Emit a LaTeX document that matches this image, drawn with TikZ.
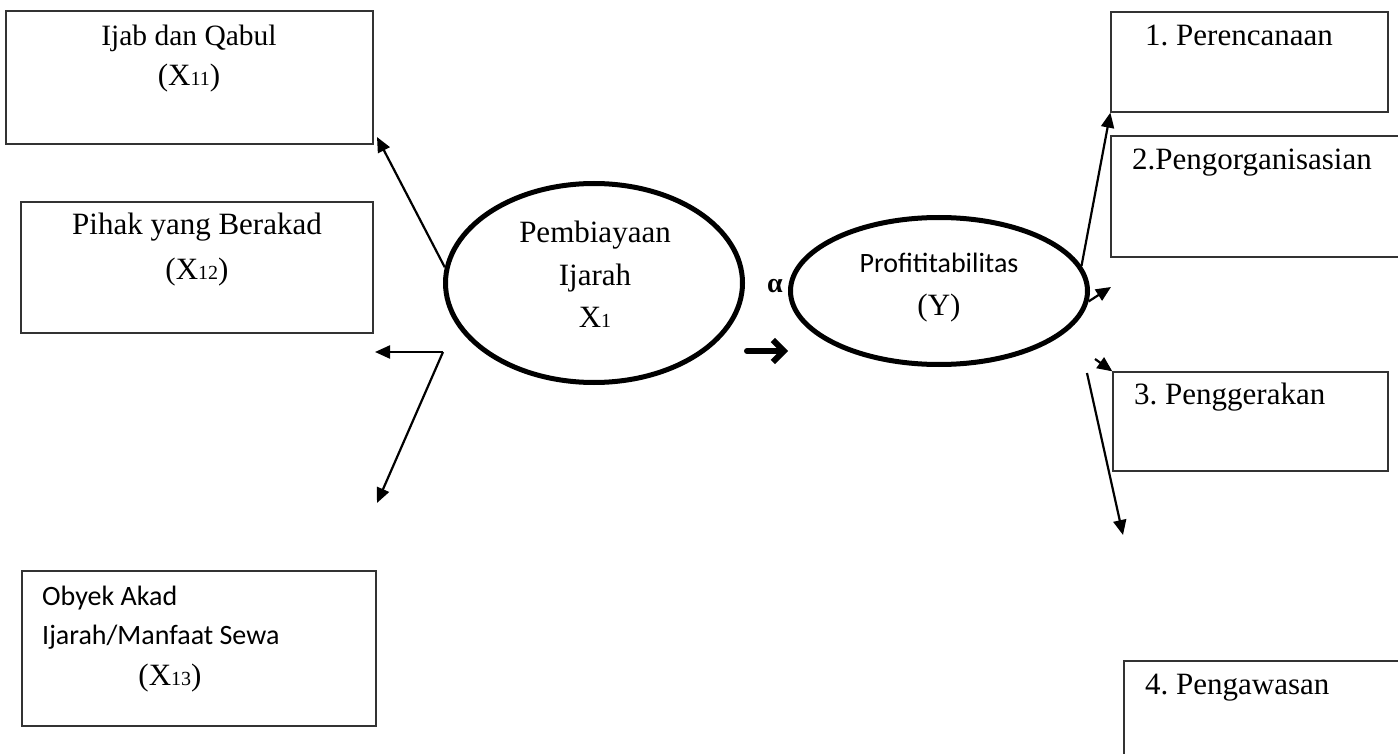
\documentclass[tikz,border=0pt]{standalone}
\usepackage{fontspec}
\setmainfont{Liberation Serif}
\newfontfamily\calibri{Carlito}
\usetikzlibrary{positioning,shapes.geometric,arrows.meta}
\frenchspacing
\newcommand{\subsc}[1]{{\fontsize{20}{20}\selectfont #1}}
\tikzset{
  box/.style     = {draw=black!80, line width=1.3pt, inner sep=0pt},
  var/.style     = {ellipse, draw, line width=5pt, inner sep=0pt},
  lbl/.style     = {inner sep=0pt, font=\fontsize{31}{37}\selectfont},
  sanslbl/.style = {inner sep=0pt, font=\calibri\fontsize{28}{34}\selectfont},
  link/.style    = {-{Triangle[length=15pt,width=13pt]}, line width=2.2pt},
  bigflow/.style = {-{Straight Barb[length=11pt,width=22pt]}, line width=6pt,
                    line cap=round, line join=round},
}

\begin{document}
\begin{tikzpicture}[x=1pt,y=-1pt]
    \clip (0,0) rectangle (1398,754);
    \fill[white] (0,0) rectangle (1398,754);
    % Left: dimensions of ijarah
    \node[box, minimum width=367pt, minimum height=133pt] (ijab)   at (189.5,77.5) {};
    \node[box, minimum width=352pt, minimum height=131pt] (pihak)  at (197,267.5) {};
    \node[box, minimum width=354pt, minimum height=155pt] (obyek)  at (199,648.5) {};
    \node[lbl, anchor=mid, font=\fontsize{29.5}{35}\selectfont] (ijabA) at (189,43) {Ijab dan Qabul};
    \node[lbl, anchor=mid] (ijabB)   at (189,83)  {(X\subsc{11})};
    \node[lbl, anchor=mid] (pihakA)  at (197,232) {Pihak yang Berakad};
    \node[lbl, anchor=mid] (pihakB)  at (197,277) {(X\subsc{12})};
    \node[sanslbl, anchor=mid west] (obyekA) at (42,603) {Obyek Akad};
    \node[sanslbl, anchor=mid west] (obyekB) at (42,642) {Ijarah/Manfaat Sewa};
    \node[lbl, anchor=mid] (obyekC)  at (170,683) {(X\subsc{13})};
    % Middle: the two variables
    \node[var, minimum width=297pt, minimum height=199pt] (x1) at (594,283) {};
    \node[var, minimum width=297pt, minimum height=147pt] (y)  at (939,291) {};
    \node[lbl, anchor=mid] (x1A) at (595,240) {Pembiayaan};
    \node[lbl, anchor=mid] (x1B) at (595,283) {Ijarah};
    \node[lbl, anchor=mid] (x1C) at (595,325) {X\subsc{1}};
    \node[sanslbl, anchor=mid] (yA) at (939,270) {Profititabilitas};
    \node[lbl, anchor=mid] (yB) at (939,313) {(Y)};
    \node[lbl, anchor=mid, font=\bfseries\fontsize{28}{28}\selectfont] (alpha) at (775,290) {α};
    % Right: management functions
    \node[box, minimum width=277pt, minimum height=100pt] (renc)  at (1249.5,62) {};
    \node[box, minimum width=309pt, minimum height=121pt] (organ) at (1265.5,196.5) {};
    \node[box, minimum width=275pt, minimum height=99pt]  (gerak) at (1250.5,421.5) {};
    \node[box, minimum width=296pt, minimum height=119pt] (awas)  at (1272,720.5) {};
    \node[lbl, anchor=mid west] (rencA)  at (1145,43)  {1. Perencanaan};
    \node[lbl, anchor=mid west] (organA) at (1132,167) {2.Pengorganisasian};
    \node[lbl, anchor=mid west] (gerakA) at (1134,402) {3. Penggerakan};
    \node[lbl, anchor=mid west] (awasA)  at (1145,692) {4. Pengawasan};
    % Free ends
    \coordinate (t1) at (377,137);
    \coordinate (j1) at (443,352);
    \coordinate (t2) at (375,352);
    \coordinate (t3) at (377,503);
    \coordinate (t5) at (1111,287);
    \coordinate (s6) at (1095,359);
    \coordinate (s7) at (1087,373);
    \coordinate (t7) at (1123,535);
    \coordinate (m1) at (747,351);
    \coordinate (m2) at (788,351);

    \draw[link] (x1.174) -- (t1);
    \draw[link] (j1) -- (t2);
    \draw[link] (j1) -- (t3);
    \draw[link] (y.10) -- (renc.south west);
    \draw[link] (y.-4) -- (t5);
    \draw[link] (s6) -- (gerak.north west);
    \draw[link] (s7) -- (t7);
    \draw[bigflow] (m1) -- (m2);
  \end{tikzpicture}
\end{document}
